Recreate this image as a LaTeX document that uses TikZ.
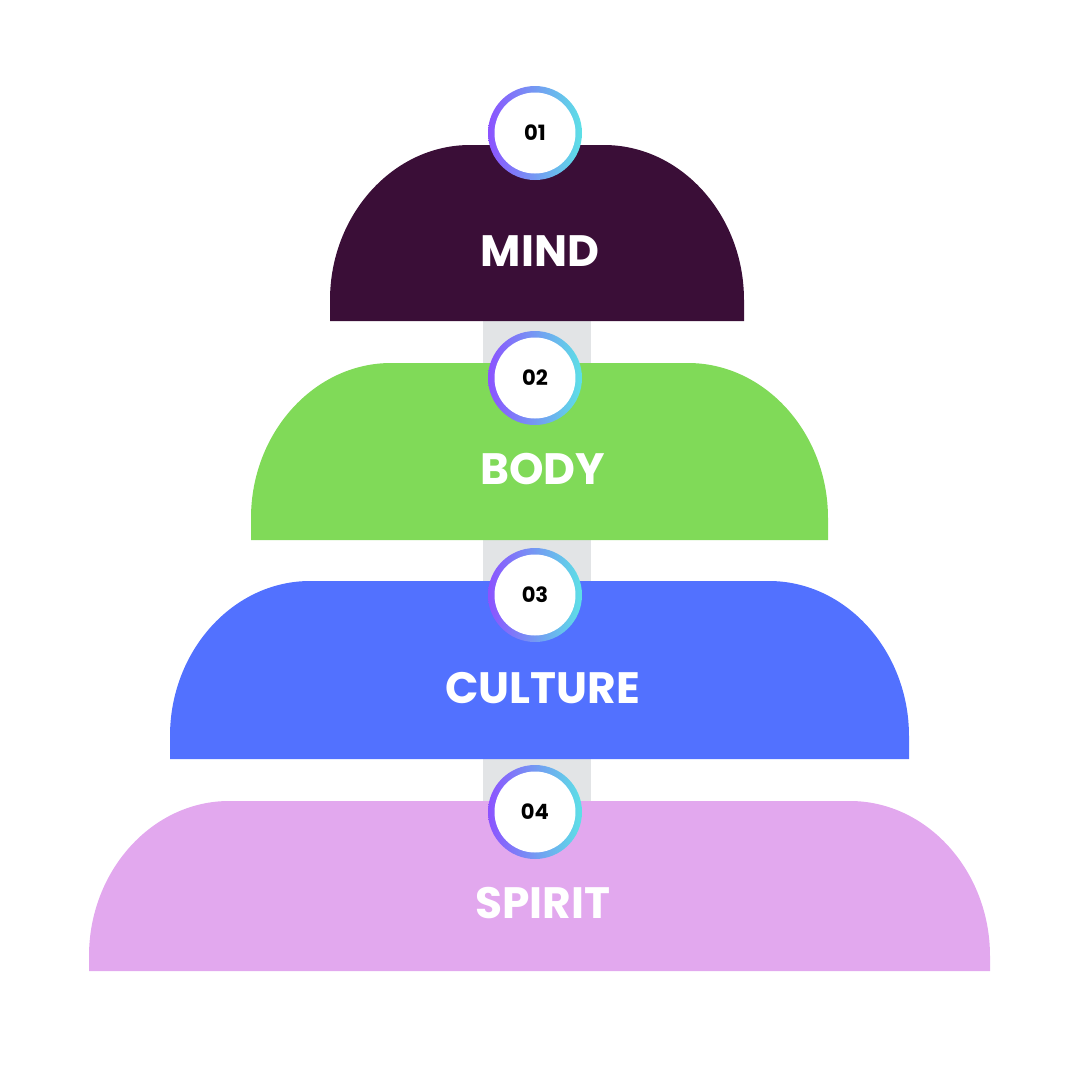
\documentclass[tikz,border=0pt]{standalone}
\usepackage{fontspec}
\setmainfont{Poppins}
\usetikzlibrary{calc}
\definecolor{mindC}{HTML}{3A0E37}
\definecolor{bodyC}{HTML}{80DA58}
\definecolor{cultC}{HTML}{5271FF}
\definecolor{spirC}{HTML}{E2A8EE}
\definecolor{barC}{HTML}{E2E4E6}
\definecolor{ringL}{HTML}{8C52FF}
\definecolor{ringR}{HTML}{5CE1E6}
\tikzset{
  layer/.style = {fill=#1},
  bar/.style = {fill=barC},
  label/.style = {text=white, font=\bfseries\fontsize{25}{28}\selectfont},
  num/.style = {circle, fill=white, minimum size=1.62cm, inner sep=0pt, font=\bfseries\fontsize{12}{14}\selectfont}
}
\begin{document}
\begin{tikzpicture}[x=0.02cm,y=-0.02cm]

    \useasboundingbox (0,0) rectangle (1080,1080);

    % Connector bars
    \fill[bar] (483,300) rectangle (591,820);

    % Layers
    \foreach \xl/\xr/\yt/\yb/\col/\txt/\nm in {
        330/744/145/321/mindC/MIND/mind,
        251/828/363/540/bodyC/BODY/body,
        170/909/581/759/cultC/CULTURE/culture,
        89/990/801/971/spirC/SPIRIT/spirit}{
      \fill[layer={\col}] (\xl,\yb) -- (\xl,\yt+155)
        .. controls (\xl,\yt+70) and (\xl+63,\yt) .. (\xl+140,\yt)
        -- (\xr-140,\yt)
        .. controls (\xr-63,\yt) and (\xr,\yt+70) .. (\xr,\yt+155)
        -- (\xr,\yb) -- cycle;
      \node[label] (\nm) at ({(\xl+\xr)/2+3},{\yt+(\yb-\yt)*0.6}) {\txt};
    }

    % Step markers
    \foreach \y/\n in {133/01, 378/02, 595/03, 812/04}{
      \shade[left color=ringL, right color=ringR] (535,\y) circle (0.94cm);
      \node[num] (step\n) at (535,\y) {\n};
    }

\end{tikzpicture}
\end{document}
